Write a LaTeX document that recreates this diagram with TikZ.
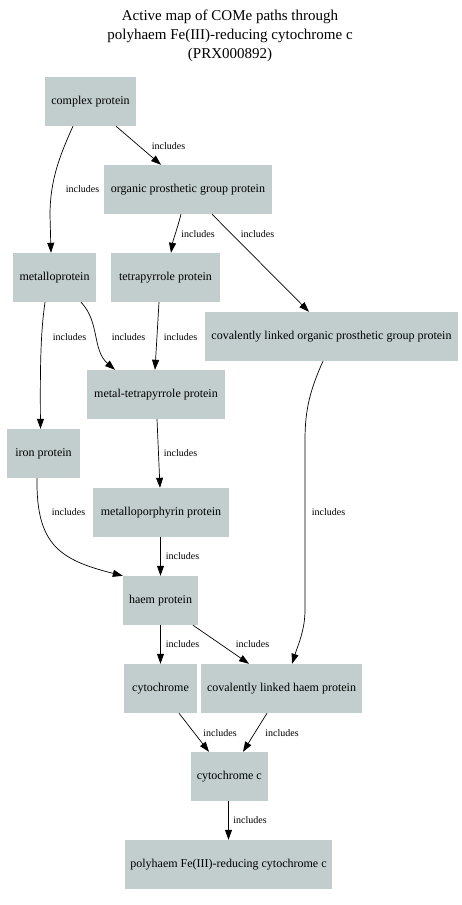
\documentclass[tikz,border=0pt]{standalone}
\usepackage{fontspec}
\setmainfont{Liberation Serif}
\usetikzlibrary{arrows.meta}
\definecolor{boxfill}{RGB}{194,205,205}
\begin{document}
\begin{tikzpicture}[x=1pt,y=-1pt,
  box/.style={fill=boxfill,draw=none,minimum height=49pt,inner sep=0pt,font=\fontsize{12}{14}\selectfont},
  lbl/.style={font=\fontsize{10}{12}\selectfont,inner sep=0pt},
  edge/.style={line width=0.7pt,-{Triangle[length=10pt,width=7pt]}}]
\useasboundingbox (0,0) rectangle (461,905);
\node[font=\fontsize{15}{19}\selectfont,align=center] (title) at (230,36) {Active map of COMe paths through\\polyhaem Fe(III)-reducing cytochrome c\\(PRX000892)};
\node[box,minimum width=91pt] (cp) at (90.5,101.5) {complex protein};
\node[box,minimum width=168pt] (opg) at (188,189.5) {organic prosthetic group protein};
\node[box,minimum width=83pt] (mp) at (54.5,277.5) {metalloprotein};
\node[box,minimum width=109pt] (tp) at (165.5,277.5) {tetrapyrrole protein};
\node[box,minimum width=253pt] (cop) at (331.5,336.5) {covalently linked organic prosthetic group protein};
\node[box,minimum width=138pt] (mtp) at (156,394.5) {metal-tetrapyrrole protein};
\node[box,minimum width=73pt] (ip) at (43.5,453.5) {iron protein};
\node[box,minimum width=136pt] (mpp) at (161,512.5) {metalloporphyrin protein};
\node[box,minimum width=75pt] (hp) at (160.5,600.5) {haem protein};
\node[box,minimum width=73pt] (cy) at (160.5,688.5) {cytochrome};
\node[box,minimum width=161pt] (chp) at (281.5,688.5) {covalently linked haem protein};
\node[box,minimum width=77pt] (cc) at (229.3,776.5) {cytochrome c};
\node[box,minimum width=207pt] (ph) at (228.5,864.5) {polyhaem Fe(III)-reducing cytochrome c};
% edges
\draw[edge] ([xshift=25.5pt]cp.south) -- ([xshift=-27pt]opg.north);
\draw[edge] ([xshift=-17.5pt]cp.south) .. controls (60,155) and (50,180) .. (50,215) -- ([xshift=-3.5pt]mp.north);
\draw[edge] ([xshift=-7pt]opg.south) .. controls (177,230) and (173,240) .. ([xshift=5.5pt]tp.north);
\draw[edge] ([xshift=24pt]opg.south) -- ([xshift=-22.5pt]cop.north);
\draw[edge] ([xshift=-9.5pt]mp.south) .. controls (41,330) and (40,360) .. ([xshift=-3pt]ip.north);
\draw[edge] ([xshift=26.5pt]mp.south) .. controls (100,322) and (92,350) .. ([xshift=-41pt]mtp.north);
\draw[edge] ([xshift=-6.5pt]tp.south) -- ([xshift=-1pt]mtp.north);
\draw[edge] ([xshift=1pt]mtp.south) -- ([xshift=-1pt]mpp.north);
\draw[edge] ([xshift=-6.5pt]ip.south) .. controls (36,545) and (60,560) .. (hp.north west);
\draw[edge] ([xshift=-8.5pt]cop.south) .. controls (310,390) and (305,410) .. (305,440) -- (305,610) .. controls (305,630) and (298,645) .. ([xshift=10.5pt]chp.north);
\draw[edge] ([xshift=-0.5pt]mpp.south) -- (hp.north);
\draw[edge] (hp.south) -- (cy.north);
\draw[edge] ([xshift=32.5pt]hp.south) -- ([xshift=-32.5pt]chp.north);
\draw[edge] ([xshift=18.5pt]cy.south) -- ([xshift=-20.3pt]cc.north);
\draw[edge] ([xshift=-14.5pt]chp.south) -- ([xshift=13.7pt]cc.north);
\draw[edge] ([xshift=-0.8pt]cc.south) -- (ph.north);
% labels
\node[lbl] (l1) at (168.5,146) {includes};
\node[lbl] (l2) at (82.5,189) {includes};
\node[lbl] (l3) at (198,234) {includes};
\node[lbl] (l4) at (257.5,234) {includes};
\node[lbl] (l5) at (69.5,337) {includes};
\node[lbl] (l6) at (128.5,337) {includes};
\node[lbl] (l7) at (180.5,337) {includes};
\node[lbl] (l8) at (180.5,453) {includes};
\node[lbl] (l9) at (68.5,512) {includes};
\node[lbl] (l10) at (328.5,512) {includes};
\node[lbl] (l11) at (182.5,556) {includes};
\node[lbl] (l12) at (182.5,644) {includes};
\node[lbl] (l13) at (252.5,644) {includes};
\node[lbl] (l14) at (220,733) {includes};
\node[lbl] (l15) at (282,733) {includes};
\node[lbl] (l16) at (250,820) {includes};
\end{tikzpicture}
\end{document}
